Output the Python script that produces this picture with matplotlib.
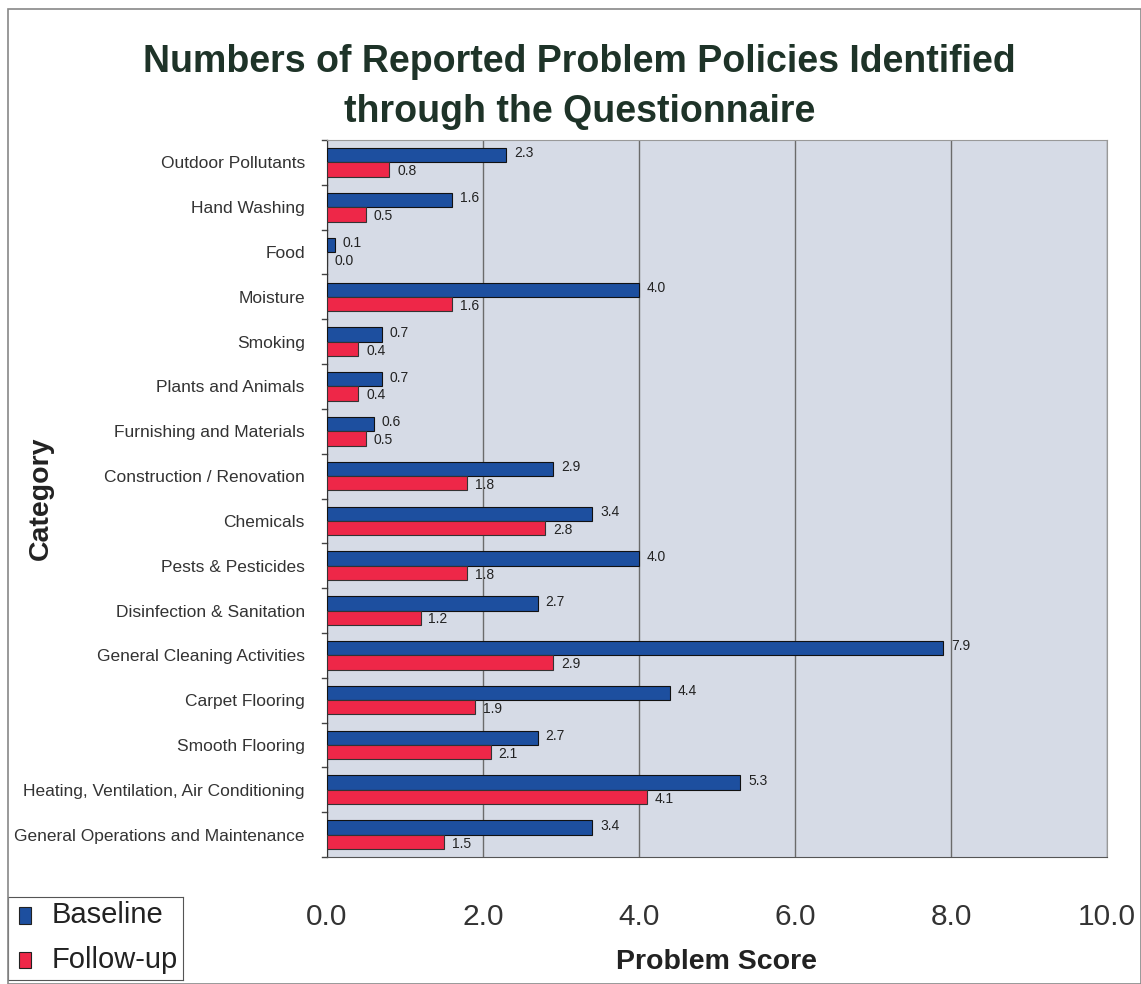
import numpy as np
import matplotlib.pyplot as plt
from matplotlib.patches import Rectangle

# categories top to bottom
categories = [
    "Outdoor Pollutants", "Hand Washing", "Food", "Moisture", "Smoking",
    "Plants and Animals", "Furnishing and Materials", "Construction / Renovation",
    "Chemicals", "Pests & Pesticides", "Disinfection & Sanitation",
    "General Cleaning Activities", "Carpet Flooring", "Smooth Flooring",
    "Heating, Ventilation, Air Conditioning", "General Operations and Maintenance",
]
baseline = [2.3, 1.6, 0.1, 4.0, 0.7, 0.7, 0.6, 2.9, 3.4, 4.0, 2.7, 7.9, 4.4, 2.7, 5.3, 3.4]
followup = [0.8, 0.5, 0.0, 1.6, 0.4, 0.4, 0.5, 1.8, 2.8, 1.8, 1.2, 2.9, 1.9, 2.1, 4.1, 1.5]
xticks = [0, 2, 4, 6, 8, 10]

plt.rcParams['font.family'] = ['Liberation Sans', 'DejaVu Sans']

blue = '#1d4f9f'
red = '#ee2748'
text_col = '#333333'

fig = plt.figure(figsize=(11.41, 9.84), dpi=100)
fig.patch.set_facecolor('white')
# outer chart frame
fig.patches.append(Rectangle((8 / 1141, 0), 1 - 8 / 1141, 1 - 9 / 984, transform=fig.transFigure,
                             fill=False, edgecolor='#888888', linewidth=1.2))

ax = fig.add_axes([327 / 1141, 1 - 857 / 984, 780 / 1141, 717 / 984])
ax.set_facecolor('#d6dbe6')

y = np.arange(len(categories))
h = 0.32
ax.barh(y - 0.16, baseline, height=h, color=blue, edgecolor='#111111', linewidth=0.8, zorder=3)
ax.barh(y + 0.16, followup, height=h, color=red, edgecolor='#333333', linewidth=0.8, zorder=3)

for yi, b, f in zip(y, baseline, followup):
    ax.text(b + 0.1, yi - 0.2, f"{b:.1f}", va='center', ha='left', fontsize=10, color='#222222', zorder=4)
    ax.text(f + 0.1, yi + 0.2, f"{f:.1f}", va='center', ha='left', fontsize=10, color='#222222', zorder=4)

ax.set_xlim(0, 10)
ax.set_ylim(len(categories) - 0.5, -0.5)
ax.set_xticks(xticks)
ax.set_xticklabels([f"{t:.1f}" for t in xticks], fontsize=21.5, color=text_col)
ax.tick_params(axis='x', length=0, pad=33)
ax.set_yticks(y)
ax.set_yticklabels(categories, fontsize=12.5, color=text_col)
ax.tick_params(axis='y', length=0, pad=16)
# category separator tick marks
for b in np.arange(-0.5, len(categories), 1.0):
    ax.plot([-0.06, 0], [b, b], color='#444444', lw=1, clip_on=False)

ax.grid(axis='x', color='#6b6b6b', linewidth=1.0, zorder=1)
ax.set_axisbelow(True)
for s in ['top', 'right']:
    ax.spines[s].set_color('#999999')
ax.spines['left'].set_color('#333333')
ax.spines['bottom'].set_color('#555555')

ax.set_xlabel("Problem Score", fontsize=20.5, fontweight='bold', color='#222222', labelpad=13)
ax.set_ylabel("Category", fontsize=20.5, fontweight='bold', color='#222222')
ax.yaxis.set_label_coords(-0.35, 0.5)

fig.text(0.508, 1 - 62 / 984, "Numbers of Reported Problem Policies Identified",
         ha='center', va='center', fontsize=27, fontweight='bold', color='#1e3328')
fig.text(0.508, 1 - 112 / 984, "through the Questionnaire",
         ha='center', va='center', fontsize=27, fontweight='bold', color='#1e3328')

# legend box
leg_ax = fig.add_axes([8 / 1141, 1 - 980 / 984, 175 / 1141, 83 / 984])
leg_ax.set_xlim(0, 1)
leg_ax.set_ylim(0, 1)
leg_ax.set_xticks([])
leg_ax.set_yticks([])
for s in leg_ax.spines.values():
    s.set_color('#555555')
for yy, col, lab in [(0.78, blue, "Baseline"), (0.24, red, "Follow-up")]:
    leg_ax.add_patch(Rectangle((0.06, yy - 0.1), 0.07, 0.2, facecolor=col, edgecolor='#222222', lw=0.8))
    leg_ax.text(0.25, yy, lab, va='center', ha='left', fontsize=21, color='#222222')

fig.savefig("out.png", dpi=100)
